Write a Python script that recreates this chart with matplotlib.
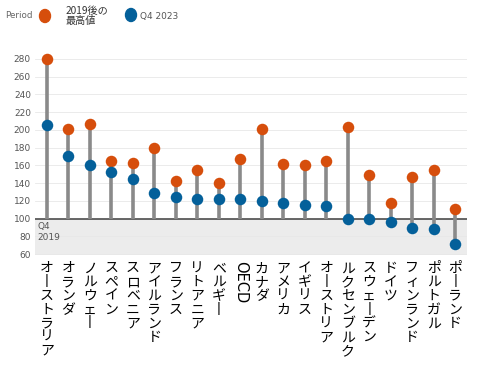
import numpy as np
import matplotlib
matplotlib.use("Agg")
from matplotlib import pyplot as plt
from matplotlib.patches import Ellipse
from matplotlib.transforms import blended_transform_factory

plt.rcParams['font.family'] = ['Noto Sans CJK JP', 'DejaVu Sans']

countries = ["オーストラリア", "オランダ", "ノルウェー", "スペイン", "スロベニア", "アイルランド",
             "フランス", "リトアニア", "ベルギー", "OECD", "カナダ", "アメリカ", "イギリス",
             "オーストリア", "ルクセンブルク", "スウェーデン", "ドイツ", "フィンランド",
             "ポルトガル", "ポーランド"]
peak = [280, 201, 207, 165, 163, 180, 143, 155, 140, 167, 201, 162, 161, 165, 203, 149, 118, 147, 155, 111]
q4_2023 = [206, 171, 161, 153, 145, 129, 124, 122, 122, 122, 120, 118, 115, 114, 100, 100, 96, 90, 88, 72]
yticks = list(range(60, 281, 20))

orange = "#d64e0c"
blue = "#04609a"
stem = "#8a8a8a"

fig = plt.figure(figsize=(4.8, 3.73), dpi=100)
ax = fig.add_axes([0.073, 0.316, 0.9, 0.55])
x = np.arange(len(countries))

ax.set_xlim(-0.55, len(countries) - 0.45)
ax.set_ylim(59, 290)

# shaded area below the Q4 2019 baseline
ax.axhspan(59, 100, color="#ececec", zorder=0, lw=0)
for t in yticks:
    ax.axhline(t, color="#e8e8e8", lw=0.6, zorder=0.5)
ax.axhline(100, color="#4d4d4d", lw=1.2, zorder=1)

lo = np.minimum(100, np.minimum(peak, q4_2023))
hi = np.maximum(100, np.maximum(peak, q4_2023))
ax.vlines(x, lo, hi, color=stem, lw=2.6, zorder=2)
ax.plot(x, peak, "o", color=orange, ms=8.3, zorder=3, markeredgewidth=0)
ax.plot(x, q4_2023, "o", color=blue, ms=8.3, zorder=3, markeredgewidth=0)

ax.text(-0.45, 96, "Q4\n2019", fontsize=6.5, color="#555555", va="top", ha="left",
        linespacing=1.3, family="DejaVu Sans", zorder=2)

ax.set_yticks(yticks)
ax.set_yticklabels([str(t) for t in yticks], fontsize=6.5, color="#555555", family="DejaVu Sans")
ax.set_xticks([])
ax.tick_params(axis="y", length=0, pad=3)
for s in ax.spines.values():
    s.set_visible(False)

# vertical (tategaki) country names
tr = blended_transform_factory(ax.transData, ax.transAxes)
for i, name in enumerate(countries):
    if name == "OECD":
        ax.text(i, -0.03, name, transform=tr, rotation=-90, ha="center", va="top",
                fontsize=10.5, family="DejaVu Sans")
    else:
        txt = "\n".join("丨" if c == "ー" else c for c in name)
        ax.text(i, -0.03, txt, transform=tr, ha="center", va="top", fontsize=10,
                linespacing=0.98)

# legend row
fig.text(5 / 480, 1 - 16 / 373, "Period", fontsize=6.3, color="#666666",
         va="center", family="DejaVu Sans")
fig.patches.append(Ellipse((45 / 480, 1 - 16 / 373), 11 / 480, 13 / 373,
                           transform=fig.transFigure, color=orange))
fig.text(66 / 480, 1 - 16 / 373, "2019後の\n最高値", fontsize=7.3, color="#333333",
         va="center", linespacing=1.05)
fig.patches.append(Ellipse((131 / 480, 1 - 15 / 373), 11 / 480, 13 / 373,
                           transform=fig.transFigure, color=blue))
fig.text(140 / 480, 1 - 16 / 373, "Q4 2023", fontsize=6.5, color="#555555",
         va="center", family="DejaVu Sans")

fig.savefig("out.png", dpi=100)
